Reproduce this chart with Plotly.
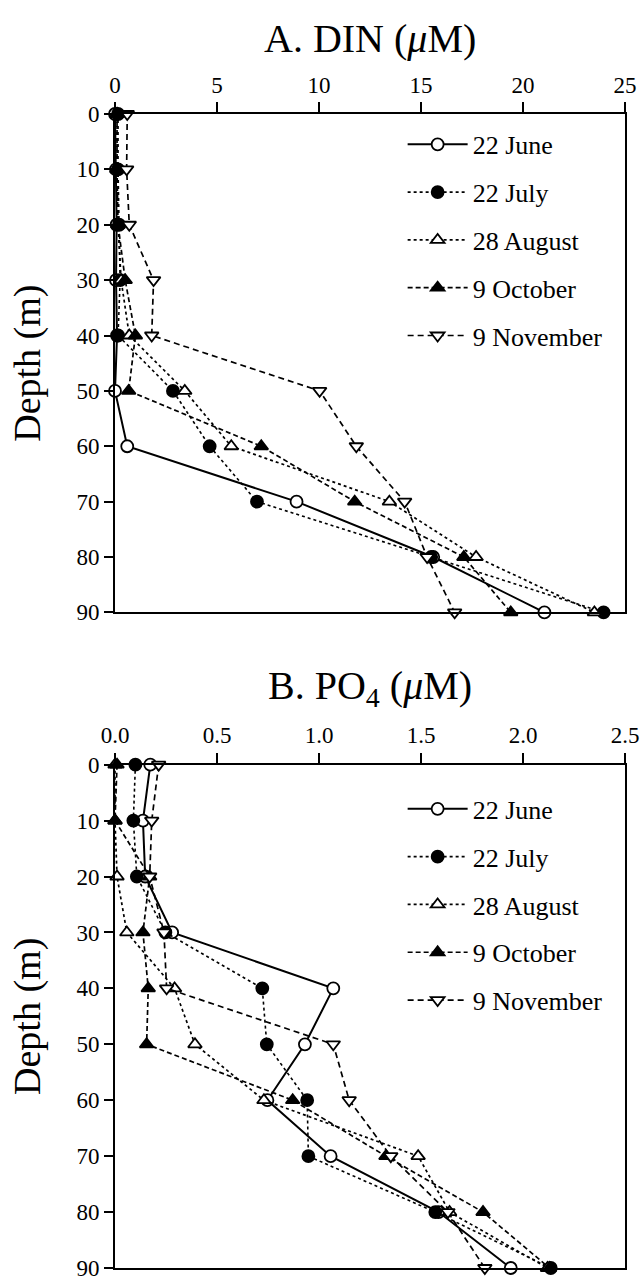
import plotly.graph_objects as go

depths = [0, 10, 20, 30, 40, 50, 60, 70, 80, 90]
series_names = ["22 June", "22 July", "28 August", "9 October", "9 November"]

din_june = [0.0, 0.05, 0.08, 0.05, 0.1, 0.0, 0.6, 8.9, 15.6, 21.05]
din_july = [0.15, 0.15, 0.2, 0.25, 0.15, 2.84, 4.64, 6.96, 15.5, 23.95]
din_aug = [0.1, 0.1, 0.15, 0.3, 0.7, 3.42, 5.7, 13.45, 17.7, 23.5]
din_oct = [0.1, 0.1, 0.15, 0.5, 1.0, 0.67, 7.17, 11.75, 17.1, 19.4]
din_nov = [0.6, 0.57, 0.7, 1.89, 1.8, 10.03, 11.83, 14.2, 15.3, 16.65]

po4_june = [0.173, 0.137, 0.148, 0.28, 1.07, 0.931, 0.747, 1.057, 1.586, 1.94]
po4_july = [0.10, 0.09, 0.107, 0.247, 0.722, 0.744, 0.942, 0.948, 1.57, 2.136]
po4_aug = [0.0, 0.0, 0.01, 0.058, 0.292, 0.392, 0.73, 1.486, 1.64, 2.12]
po4_oct = [0.01, 0.0, 0.17, 0.137, 0.163, 0.155, 0.871, 1.328, 1.804, 2.13]
po4_nov = [0.214, 0.18, 0.17, 0.24, 0.253, 1.07, 1.148, 1.352, 1.632, 1.813]

din_ticks = [0, 5, 10, 15, 20, 25]
po4_ticks = [0.0, 0.5, 1.0, 1.5, 2.0, 2.5]
depth_ticks = [0, 10, 20, 30, 40, 50, 60, 70, 80, 90]

styles = [
    dict(dash="solid", symbol="circle", fill="white", width=2),
    dict(dash="dot", symbol="circle", fill="black", width=1.6),
    dict(dash="3px,3px", symbol="triangle-up", fill="white", width=1.7),
    dict(dash="5px,3px", symbol="triangle-up", fill="black", width=1.7),
    dict(dash="6px,4px", symbol="triangle-down", fill="white", width=1.7),
]

FONT = "Liberation Serif"
fig = go.Figure()

din_all = [din_june, din_july, din_aug, din_oct, din_nov]
po4_all = [po4_june, po4_july, po4_aug, po4_oct, po4_nov]


def add_series(vals, name, s, xa, ya, leg, grp):
    fig.add_trace(go.Scatter(
        x=vals, y=depths, name=name, mode="lines+markers",
        line=dict(color="black", width=s["width"], dash=s["dash"]),
        marker=dict(symbol=s["symbol"], size=12, color=s["fill"],
                    line=dict(color="black", width=1.8)),
        xaxis=xa, yaxis=ya, legend=leg, legendgroup=grp,
        cliponaxis=False,
    ))


for i, (name, vals) in enumerate(zip(series_names, din_all)):
    add_series(vals, name, styles[i], "x", "y", "legend", "a%d" % i)

for i, (name, vals) in enumerate(zip(series_names, po4_all)):
    add_series(vals, name, styles[i], "x2", "y2", "legend2", "b%d" % i)

xcommon = dict(
    showgrid=False, zeroline=False, showline=True, linecolor="black",
    linewidth=2, mirror=True, ticks="outside", ticklen=10, tickwidth=2,
    tickcolor="black", tickfont=dict(family=FONT, size=23, color="black"),
)
ycommon = dict(xcommon, ticklen=9)

H = 1286 - 114 - 5
top_dom = [(1281 - 618) / H, 1.0]
bot_dom = [0.0, (1281 - 772) / H]

legend_common = dict(
    xanchor="left", yanchor="top", bgcolor="rgba(0,0,0,0)", itemwidth=60,
    tracegroupgap=11, font=dict(family=FONT, size=26, color="black"),
)

fig.update_layout(
    width=644, height=1286,
    margin=dict(l=115, r=18, t=114, b=5),
    paper_bgcolor="white", plot_bgcolor="white",
    font=dict(family=FONT, color="black"),
    xaxis=dict(xcommon, range=[0, 25], tickvals=din_ticks, side="top",
               anchor="y", domain=[0, 1]),
    yaxis=dict(ycommon, range=[90, 0], tickvals=depth_ticks, anchor="x",
               domain=top_dom,
               title=dict(text="Depth (m)", font=dict(family=FONT, size=38),
                          standoff=24)),
    xaxis2=dict(xcommon, range=[0, 2.5], tickvals=po4_ticks,
                tickformat=".1f", side="top", anchor="y2", domain=[0, 1]),
    yaxis2=dict(ycommon, range=[90, 0], tickvals=depth_ticks, anchor="x2",
                domain=bot_dom,
                title=dict(text="Depth (m)", font=dict(family=FONT, size=38),
                           standoff=24)),
    legend=dict(legend_common, x=0.564, y=1 - (121 - 114) / H),
    legend2=dict(legend_common, x=0.564, y=(1281 - 793) / H),
    showlegend=True,
)

fig.add_annotation(text="A. DIN (<i>μ</i>M)", xref="paper", yref="paper",
                   x=0.5, y=1 + (114 - 38) / H, yanchor="middle",
                   showarrow=False, font=dict(family=FONT, size=40, color="black"))
fig.add_annotation(text="B. PO<sub>4</sub> (<i>μ</i>M)", xref="paper", yref="paper",
                   x=0.5, y=(1281 - 694) / H, yanchor="middle",
                   showarrow=False, font=dict(family=FONT, size=40, color="black"))

fig.write_html(
    "out.html",
    config={"displayModeBar": False},
    post_script="document.body.style.margin='0';document.body.style.overflow='hidden';",
)
